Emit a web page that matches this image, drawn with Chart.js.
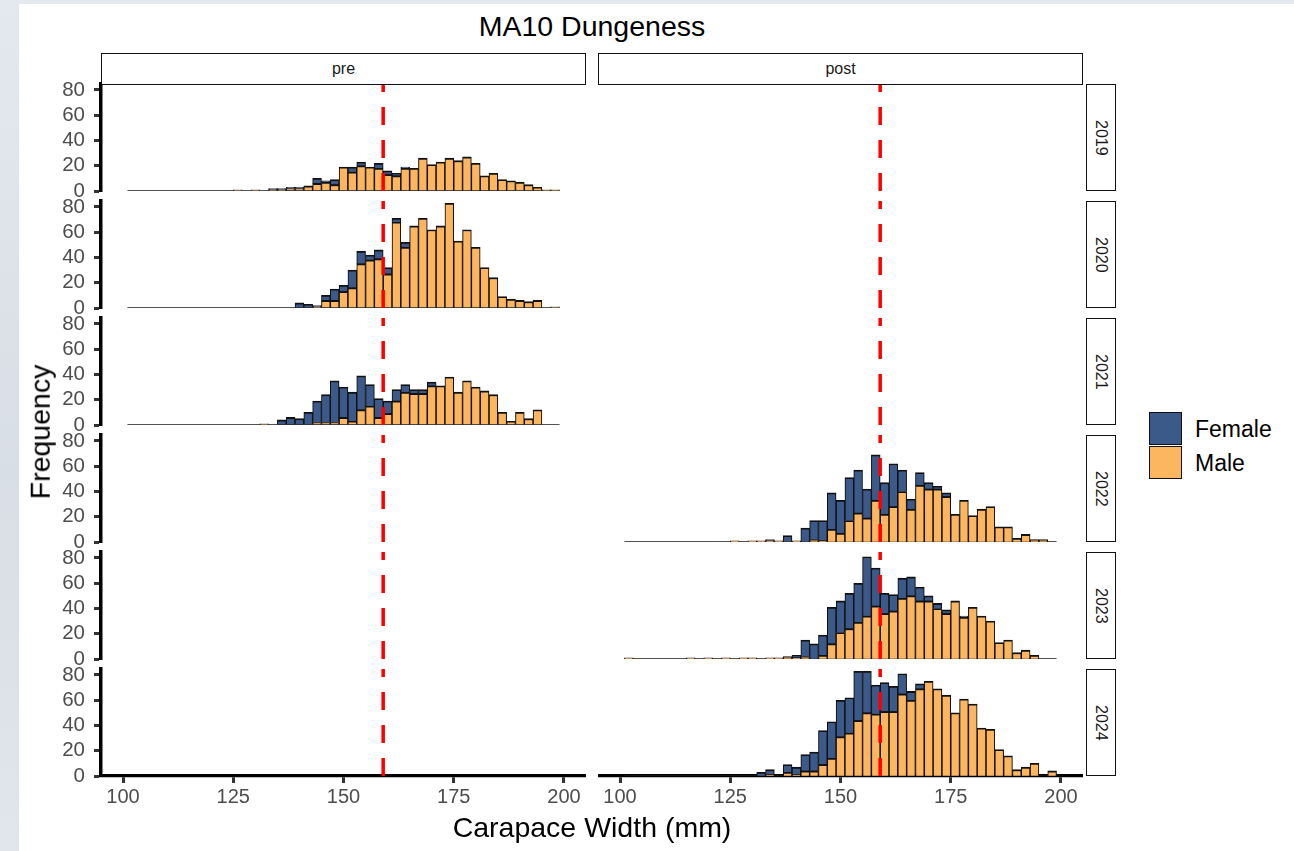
<!DOCTYPE html>
<html>
<head>
<meta charset="utf-8">
<title>MA10 Dungeness</title>
<script src="https://cdn.jsdelivr.net/npm/chart.js@4.4.1/dist/chart.umd.min.js"></script>
<style>
  html, body { margin: 0; padding: 0; }
  body {
    position: relative; width: 1294px; height: 851px; overflow: hidden;
    background: linear-gradient(#e4e9f0, #d8dee5 55%, #e1e6ec);
    font-family: "Liberation Sans", Arial, sans-serif;
  }
  #sheet { position: absolute; left: 19px; top: 4px; right: 0; bottom: 0; background: #fff; }
  canvas { position: absolute; }
  .txt { position: absolute; white-space: nowrap; color: #000; }
  .strip {
    position: absolute; box-sizing: border-box; border: 1.4px solid #111; background: #fff;
    color: #1a1a1a; font-size: 16px; display: flex; align-items: center; justify-content: center;
  }
  .strip.side { writing-mode: vertical-rl; }
  .key { position: absolute; box-sizing: border-box; border: 1.5px solid #111; width: 33px; height: 33px; }
</style>
</head>
<body>
<div id="sheet"></div>

<script>
// histogram bins (centre of each 2 mm bin)
const bins = [102, 104, 106, 108, 110, 112, 114, 116, 118, 120, 122, 124, 126, 128, 130, 132, 134,
  136, 138, 140, 142, 144, 146, 148, 150, 152, 154, 156, 158, 160, 162, 164, 166, 168, 170, 172,
  174, 176, 178, 180, 182, 184, 186, 188, 190, 192, 194, 196, 198];
const binWidth = 2;

const years = ["2019", "2020", "2021", "2022", "2023", "2024"];
const periods = ["pre", "post"];
const yearPeriod = ["pre", "pre", "pre", "post", "post", "post"];
const sexes = ["Female", "Male"];

const female2019 = [0,0,0,0,0,0,0,0,0,0,0,0,0,0,0,0,1,1,1,1,0,4,1,4,0,4,3,0,4,3,2,1,0,0,0,0,0,0,0,0,0,0,0,0,0,0,0,0,0];
const male2019   = [0,0,0,0,0,0,0,0,0,0,0,0,1,0,1,0,1,1,2,2,4,6,7,5,19,15,20,19,18,13,12,18,18,26,21,23,26,24,27,22,12,14,9,8,7,5,3,1,1];
const female2020 = [0,0,0,0,0,0,0,0,0,0,0,0,0,0,0,0,0,0,0,4,3,1,4,9,5,14,10,4,7,5,3,4,0,0,0,0,0,0,0,0,0,0,0,0,0,0,0,0,0];
const male2020   = [0,0,0,0,0,0,0,0,0,0,0,0,0,0,0,0,0,0,0,0,0,1,6,6,13,16,35,38,39,27,68,48,65,71,62,65,83,53,62,48,32,24,9,7,6,5,6,0,1];
const female2021 = [0,0,0,0,0,0,0,0,0,0,0,0,0,0,0,0,0,4,6,5,10,17,22,33,24,23,27,17,15,10,9,6,3,3,3,0,0,0,0,0,0,0,0,0,0,0,0,0,0];
const male2021   = [0,0,0,0,0,0,0,0,0,0,0,0,0,0,0,1,0,0,0,0,0,2,2,2,6,3,12,15,6,9,19,26,25,25,31,31,38,26,35,30,27,24,10,3,10,5,12,0,0];
const female2022 = [0,0,0,0,0,0,0,0,0,0,0,0,0,0,0,0,1,0,5,0,11,15,16,29,26,34,34,23,36,25,34,17,8,10,5,2,3,0,0,0,0,0,0,0,0,0,0,0,0];
const male2022   = [0,0,0,0,0,0,0,0,0,0,0,0,1,0,1,1,1,1,0,1,0,2,1,10,7,17,23,19,33,22,28,40,26,45,42,42,36,22,33,21,26,28,12,12,3,6,2,2,0];
const female2023 = [0,0,0,0,0,0,0,0,0,0,0,0,0,0,0,0,0,0,0,2,13,12,16,29,25,28,31,47,30,16,13,16,15,11,4,4,3,0,1,0,0,0,0,0,0,0,0,0,0];
const male2023   = [1,0,0,0,0,0,0,1,0,1,0,1,0,1,1,0,1,1,2,1,2,0,3,12,21,24,29,34,42,36,38,48,50,46,46,40,36,46,33,41,34,30,13,15,5,7,3,0,0];
const female2024 = [0,0,0,0,0,0,0,0,0,0,0,0,0,0,0,3,4,0,6,6,13,15,27,29,29,28,39,33,23,23,20,16,7,4,0,0,0,0,0,0,0,0,0,0,0,0,0,0,0];
const male2024   = [0,0,0,0,0,0,0,0,0,0,0,0,0,0,0,0,1,0,3,1,4,4,9,14,31,34,44,50,49,51,51,65,60,69,75,69,64,50,61,57,38,37,21,16,5,7,10,0,4];

const cutoff = 159;               // red dashed reference line (mm)
const xTicks = [100, 125, 150, 175, 200];
const yTicks = [0, 20, 40, 60, 80];

const counts = {
  "2019": [female2019, male2019], "2020": [female2020, male2020], "2021": [female2021, male2021],
  "2022": [female2022, male2022], "2023": [female2023, male2023], "2024": [female2024, male2024]
};

// look
const colors = { Female: "#3c5a89", Male: "#fdb660" };
const font = "'Liberation Sans', Arial, sans-serif";
const xMin = 95, xMax = 205, yMax = 84.75;

// panel geometry (px)
const colLeft = [101, 598];
const panelW = 485, panelH = 107;
const firstBase = 191, rowStep = 117;
const yAxisW = 81, pad = 26, xAxisH = 40;

Chart.defaults.font.family = font;

function addText(text, css, cls) {
  const d = document.createElement("div");
  d.className = cls || "txt";
  d.textContent = text;
  Object.assign(d.style, css);
  document.body.appendChild(d);
  return d;
}

function makePanel(r, c) {
  const year = years[r];
  const hasData = yearPeriod[r] === periods[c];
  const isLeft = c === 0;
  const isBottom = r === years.length - 1;
  const base = firstBase + rowStep * r;
  const top = base - panelH;

  const cv = document.createElement("canvas");
  cv.width = panelW + (isLeft ? yAxisW : 0);
  cv.height = pad + panelH + (isBottom ? xAxisH : pad);
  cv.style.left = (colLeft[c] - (isLeft ? yAxisW : 0)) + "px";
  cv.style.top = (top - pad) + "px";
  document.body.appendChild(cv);

  const datasets = [{
    type: "line",
    data: [{ x: cutoff, y: 0 }, { x: cutoff, y: yMax }],
    borderColor: "#ff0000", borderWidth: 3.5, borderDash: [18, 15], borderCapStyle: "butt",
    pointRadius: 0, fill: false, stack: "vline", order: 0
  }];

  if (hasData) {
    const [fem, mal] = counts[year];
    // male first so it sits at the bottom of the stack
    [["Male", mal], ["Female", fem]].forEach(([sex, arr]) => {
      datasets.push({
        type: "bar", label: sex,
        data: bins.map((b, i) => ({ x: b, y: arr[i] })),
        backgroundColor: colors[sex], order: 1
      });
    });
    // zero-count bins show as a flat outline along the baseline
    datasets.push({
      type: "line",
      data: [{ x: bins[0] - binWidth / 2, y: 0 }, { x: bins[bins.length - 1] + binWidth / 2, y: 0 }],
      borderColor: "#1a1a1a", borderWidth: 1.5, pointRadius: 0, fill: false, stack: "base", order: 2
    });
  }

  new Chart(cv, {
    type: "bar",
    data: { datasets },
    options: {
      responsive: false, animation: false, events: [],
      layout: { padding: { top: pad, bottom: isBottom ? 0 : pad, left: 0, right: 0 } },
      plugins: { legend: { display: false }, tooltip: { enabled: false } },
      datasets: {
        bar: {
          barPercentage: 1, categoryPercentage: 1,
          borderColor: "#111", borderSkipped: false,
          borderWidth: { top: 1.8, bottom: 0.6, left: 1.1, right: 1.1 }
        }
      },
      scales: {
        x: {
          type: "linear", stacked: true, min: xMin, max: xMax, offset: false,
          display: isBottom, z: 1,
          afterBuildTicks: s => { s.ticks = xTicks.map(v => ({ value: v })); },
          afterFit: s => { if (isBottom) s.height = xAxisH; },
          grid: { offset: false, drawOnChartArea: false, tickLength: 7, tickWidth: 3, tickColor: "#333" },
          border: { display: true, color: "#000", width: 3.3 },
          ticks: { color: "#4d4d4d", font: { size: 20 }, padding: 2, maxRotation: 0, autoSkip: false }
        },
        y: {
          type: "linear", stacked: true, min: 0, max: yMax,
          display: isLeft,
          afterBuildTicks: s => { s.ticks = yTicks.map(v => ({ value: v })); },
          afterFit: s => { if (isLeft) s.width = yAxisW; },
          grid: { drawOnChartArea: false, tickLength: 7, tickWidth: 3, tickColor: "#333" },
          border: { display: true, color: "#000", width: 3.5 },
          ticks: { color: "#4d4d4d", font: { size: 20.5 }, padding: 9, autoSkip: false }
        }
      }
    }
  });

  // year strip on the right of the last column
  if (c === periods.length - 1) {
    addText(year, { left: "1086px", top: top + "px", width: "30px", height: panelH + "px" }, "strip side");
  }
}

years.forEach((y, r) => periods.forEach((p, c) => makePanel(r, c)));

// period strips
periods.forEach((p, c) => {
  addText(p, { left: colLeft[c] + "px", top: "53px", width: panelW + "px", height: "32px" }, "strip");
});

// titles
addText("MA10 Dungeness", { left: "592px", top: "12px", fontSize: "28.5px", lineHeight: "1", transform: "translateX(-50%)" });
addText("Carapace Width (mm)", { left: "592px", top: "813px", fontSize: "28.5px", lineHeight: "1", transform: "translateX(-50%)" });
addText("Frequency", { left: "40px", top: "432px", fontSize: "28.5px", lineHeight: "1", transform: "translate(-50%, -50%) rotate(-90deg)" });

// legend
sexes.forEach((s, i) => {
  const k = document.createElement("div");
  k.className = "key";
  k.style.left = "1149px";
  k.style.top = (412 + i * 34) + "px";
  k.style.background = colors[s];
  document.body.appendChild(k);
  addText(s, { left: "1195px", top: (429 + i * 34) + "px", fontSize: "23px", lineHeight: "1", transform: "translateY(-50%)" });
});
</script>
</body>
</html>
